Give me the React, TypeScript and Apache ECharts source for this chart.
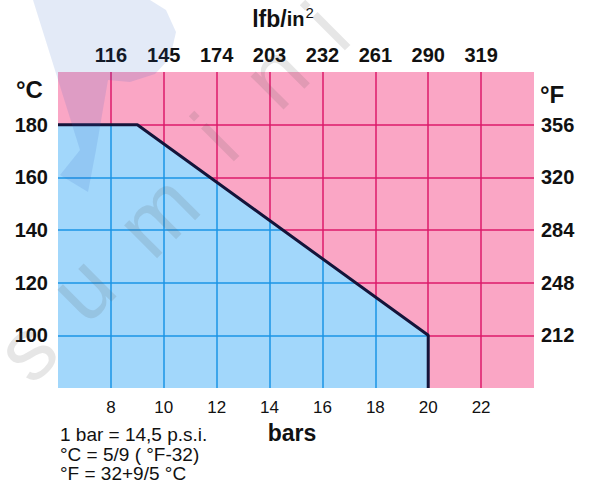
import React, { useEffect, useRef } from "react";
import * as echarts from "echarts";

// Boundary of the allowed operating area (bar, °C)
const boundaryBars = [6, 9, 20, 20];
const boundaryTempC = [180, 180, 100, 80];

// Axis ticks and labels
const barTicks = [8, 10, 12, 14, 16, 18, 20, 22];
const psiLabels = ["116", "145", "174", "203", "232", "261", "290", "319"];
const tempTicks = [100, 120, 140, 160, 180];
const fahrenheitLabels = ["212", "248", "284", "320", "356"];

const FONT = "'Liberation Sans', Arial, Helvetica, sans-serif";
const PINK = "#faa6c5";
const PINK_LINE = "#dc1a6a";
const BLUE = "#a2d7fb";
const BLUE_LINE = "#1a94e6";

function boundaryYAt(x: number): number {
  for (let i = 0; i < boundaryBars.length - 1; i++) {
    const x0 = boundaryBars[i], x1 = boundaryBars[i + 1];
    if (x0 === x1) continue;
    if (x >= x0 && x <= x1) {
      const t = (x - x0) / (x1 - x0);
      return boundaryTempC[i] + t * (boundaryTempC[i + 1] - boundaryTempC[i]);
    }
  }
  return boundaryTempC[boundaryTempC.length - 1];
}

function boundaryXAt(y: number): number {
  let best = boundaryBars[0];
  for (let i = 0; i < boundaryBars.length - 1; i++) {
    const y0 = boundaryTempC[i], y1 = boundaryTempC[i + 1];
    if (y0 === y1) continue;
    const lo = Math.min(y0, y1), hi = Math.max(y0, y1);
    if (y >= lo && y <= hi) {
      const t = (y - y0) / (y1 - y0);
      const x = boundaryBars[i] + t * (boundaryBars[i + 1] - boundaryBars[i]);
      if (x > best) best = x;
    }
  }
  return best;
}

export default function App() {
  const ref = useRef<HTMLDivElement>(null);
  useEffect(() => {
    if (!ref.current) return;
    const chart = echarts.init(ref.current, null, { renderer: "svg" });
    const maxBar = Math.max(...boundaryBars);
    const minBar = boundaryBars[0];
    const minTemp = Math.min(...boundaryTempC);
    const segs: any[] = [];
    barTicks.forEach((b) => {
      if (b < maxBar) segs.push({ coords: [[b, minTemp], [b, boundaryYAt(b)]] });
    });
    tempTicks.forEach((t) => {
      segs.push({ coords: [[minBar, t], [boundaryXAt(t), t]] });
    });
    const boundaryData = boundaryBars.map((b, i) => [b, boundaryTempC[i]]);

    const wmFill = "rgba(90,90,90,0.15)";
    const wmFont = `88px ${FONT}`;
    const letters: [string, number, number][] = [
      ["s", 26, 350],
      ["u", 82, 288],
      ["m", 157, 215],
      ["i", 215, 137],
      ["n", 275, 75],
      ["i", 326, 26],
    ];

    const labelStyle = { fontFamily: FONT, fontSize: 20, fontWeight: "bold", color: "#111" };

    chart.setOption({
      animation: false,
      grid: {
        left: 58,
        right: 61,
        top: 70,
        bottom: 100,
        show: true,
        backgroundColor: PINK,
        borderWidth: 0,
      },
      xAxis: [
        {
          type: "value",
          position: "bottom",
          min: 6,
          max: 24,
          interval: 2,
          axisLine: { show: false },
          axisTick: { show: false },
          splitLine: {
            show: true,
            showMinLine: false,
            showMaxLine: false,
            lineStyle: { color: PINK_LINE, width: 1.5 },
          },
          axisLabel: {
            margin: 11,
            fontFamily: FONT,
            fontSize: 17,
            color: "#111",
            formatter: (v: number) => (barTicks.includes(v) ? String(v) : ""),
          },
          name: "bars",
          nameLocation: "middle",
          nameGap: 33,
          nameTextStyle: { fontFamily: FONT, fontSize: 23, fontWeight: "bold", color: "#111", padding: [0, 8, 0, 0] },
        },
        {
          type: "value",
          position: "top",
          min: 6,
          max: 24,
          interval: 2,
          axisLine: { show: false },
          axisTick: { show: false },
          splitLine: { show: false },
          axisLabel: {
            margin: 7,
            ...labelStyle,
            formatter: (v: number) => {
              const i = barTicks.indexOf(v);
              return i >= 0 ? psiLabels[i] : "";
            },
          },
          name: "{a|lfb/}{c|in}{b|2}",
          nameLocation: "middle",
          nameGap: 40,
          nameTextStyle: {
            padding: [0, 26, 0, 0],
            rich: {
              a: { fontFamily: FONT, fontSize: 23, fontWeight: "bold", color: "#111" },
              c: { fontFamily: FONT, fontSize: 20, fontWeight: "bold", color: "#111" },
              b: { fontFamily: FONT, fontSize: 15, color: "#111", verticalAlign: "top", padding: [0, 0, 12, 1] },
            },
          },
        },
      ],
      yAxis: [
        {
          type: "value",
          position: "left",
          min: 80,
          max: 200,
          interval: 20,
          axisLine: { show: false },
          axisTick: { show: false },
          splitLine: {
            show: true,
            showMinLine: false,
            showMaxLine: false,
            lineStyle: { color: PINK_LINE, width: 1.5 },
          },
          axisLabel: {
            margin: 10,
            ...labelStyle,
            formatter: (v: number) => (tempTicks.includes(v) ? String(v) : ""),
          },
        },
        {
          type: "value",
          position: "right",
          min: 80,
          max: 200,
          interval: 20,
          axisLine: { show: false },
          axisTick: { show: false },
          splitLine: { show: false },
          axisLabel: {
            margin: 7,
            ...labelStyle,
            formatter: (v: number) => {
              const i = tempTicks.indexOf(v);
              return i >= 0 ? fahrenheitLabels[i] : "";
            },
          },
        },
      ],
      series: [
        {
          type: "line",
          xAxisIndex: 0,
          yAxisIndex: 0,
          data: boundaryData,
          symbol: "none",
          lineStyle: { width: 0 },
          areaStyle: { color: BLUE, opacity: 1, origin: "start" },
          z: 2,
        },
        {
          type: "lines",
          coordinateSystem: "cartesian2d",
          xAxisIndex: 0,
          yAxisIndex: 0,
          data: segs,
          lineStyle: { color: BLUE_LINE, width: 1.5, opacity: 1 },
          z: 3,
        },
        {
          type: "line",
          xAxisIndex: 0,
          yAxisIndex: 0,
          data: boundaryData,
          symbol: "none",
          lineStyle: { color: "#14143a", width: 3 },
          z: 4,
        },
      ],
      graphic: [
        {
          type: "text",
          left: 16,
          top: 77,
          style: { text: "°C", font: `bold 24px ${FONT}`, fill: "#111" },
        },
        {
          type: "text",
          left: 540,
          top: 82,
          style: { text: "°F", font: `bold 24px ${FONT}`, fill: "#111" },
        },
        {
          type: "text",
          left: 60,
          top: 425,
          style: {
            text: "1 bar = 14,5 p.s.i.\n°C = 5/9 ( °F-32)\n°F = 32+9/5 °C",
            font: `19px ${FONT}`,
            lineHeight: 19.5,
            fill: "#111",
          },
        },
        {
          type: "polygon",
          z: 100,
          shape: {
            points: [
              [33, 0], [150, 0], [166, 10], [176, 32], [170, 58], [155, 74],
              [130, 82], [108, 80], [96, 150], [88, 192], [60, 175], [80, 150],
            ],
          },
          style: { fill: "rgba(40,90,190,0.13)" },
        },
        ...letters.map(([ch, x, y]) => ({
          type: "text",
          x,
          y,
          rotation: Math.PI / 4,
          z: 100,
          style: { text: ch, font: wmFont, fill: wmFill, textAlign: "center", textVerticalAlign: "middle" },
        })),
      ],
    });
    return () => chart.dispose();
  }, []);
  return (
    <div
      ref={ref}
      style={{ position: "fixed", left: 0, top: 0, width: 595, height: 488, background: "#fff" }}
    />
  );
}
